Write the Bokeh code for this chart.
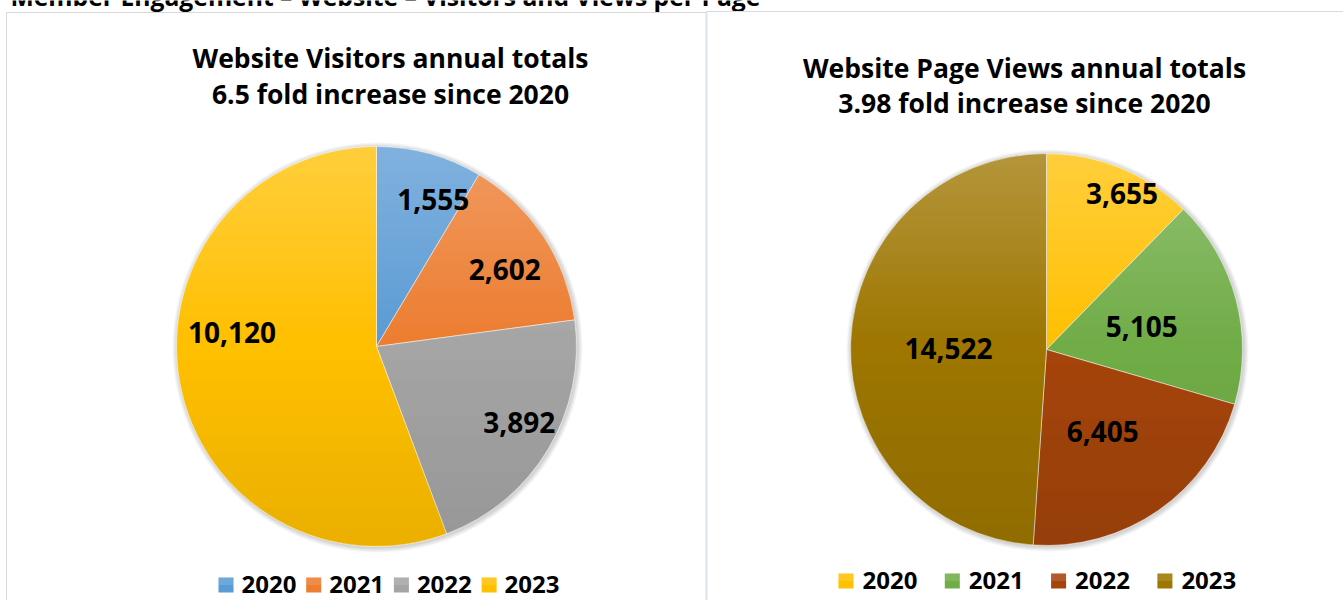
import numpy as np
from bokeh.plotting import figure
from bokeh.models import ColumnDataSource, Range1d
from bokeh.embed import file_html
from bokeh.resources import INLINE
from bokeh.core.properties import value

# ---------------- data ----------------
header = "Member Engagement – Website – Visitors and Views per Page"
years = ["2020", "2021", "2022", "2023"]
visitors = [1555, 2602, 3892, 10120]
page_views = [3655, 5105, 6405, 14522]
visitor_colors = ["#5B9BD5", "#ED7D31", "#A5A5A5", "#FFC000"]
view_colors = ["#FFC000", "#70AD47", "#A5450C", "#9E7600"]
visitors_title = ["Website Visitors annual totals", "6.5 fold increase since 2020"]
views_title = ["Website Page Views annual totals", "3.98 fold increase since 2020"]

# ---------------- layout (page pixels, y from top) ----------------
W, H = 1343, 600
FONT = value("Open Sans")
TXT_DY = -9  # baseline correction for the svg text renderer

panels = [
    dict(values=visitors, colors=visitor_colors, title=visitors_title,
         cx=376, cy=346, R=200, title_x=390, title_base=[66, 102],
         leg_x0=218, leg_pitch=87.7, leg_top=577, leg_txt_dx=23,
         label_r=0.75,
         nudges=[(17, -3), (3, 5), (14, -2), (3, -42)]),
    dict(values=page_views, colors=view_colors, title=views_title,
         cx=1046, cy=349, R=196, title_x=1024, title_base=[76, 111],
         leg_x0=838, leg_pitch=106.3, leg_top=573, leg_txt_dx=24,
         label_r=0.75,
         nudges=[(20, -21), (-47, 13), (-28, -40), (49, 3)]),
]


def Y(py):
    return H - py


p = figure(width=W, height=H, x_range=Range1d(0, W), y_range=Range1d(0, H),
           output_backend="svg", toolbar_location=None, min_border=0,
           background_fill_color="white", border_fill_color="white")
p.axis.visible = False
p.grid.visible = False
p.outline_line_color = None

# header (clipped at the top of the page)
p.text(x=[10], y=[Y(5 + TXT_DY)], text=[header], text_font=FONT,
       text_font_style="bold", text_font_size="24.7px", text_color="black",
       text_align="left", text_baseline="alphabetic")

# panel borders
p.segment(x0=[6, 6, 706, 706], y0=[Y(12), Y(12), Y(11), Y(11)],
          x1=[706, 6, 1343, 706], y1=[Y(12), Y(600), Y(11), Y(600)],
          line_color=["#d9d9d9", "#d9d9d9", "#d6dce4", "#dde2ea"],
          line_width=[1, 1, 1, 2])

for pn in panels:
    vals = np.array(pn["values"], dtype=float)
    frac = vals / vals.sum()
    cum = np.concatenate([[0], np.cumsum(frac)])
    start = np.pi / 2 - cum[:-1] * 2 * np.pi
    end = np.pi / 2 - cum[1:] * 2 * np.pi
    cx, cy, R = pn["cx"], pn["cy"], pn["R"]

    # soft shadow
    for k in range(1, 6):
        p.circle(x=[cx + 1], y=[Y(cy + 1)], radius=R + k, fill_color="black",
                 fill_alpha=0.035, line_color=None)

    src = ColumnDataSource(dict(start=start, end=end, color=pn["colors"]))
    p.wedge(x=cx, y=Y(cy), radius=R, start_angle="start", end_angle="end",
            direction="clock", fill_color="color", line_color="white",
            line_alpha=0.5, line_width=1, source=src)

    # vertical light-to-dark gradient overlay
    L, Rt, T, B, C, A = [], [], [], [], [], []
    y = cy - R
    while y < cy + R:
        y0, y1 = y, min(y + 1, cy + R)
        ym = (y0 + y1) / 2
        t = (ym - cy) / R
        if t < 0:
            d = min(abs(y0 - cy), abs(y1 - cy))
            col, al = "white", 0.25 * (-t)
        else:
            d = max(abs(y0 - cy), abs(y1 - cy))
            col, al = "black", 0.085 * t
        hw = np.sqrt(max(R * R - d * d, 0))
        L.append(cx - hw); Rt.append(cx + hw)
        T.append(Y(y0)); B.append(Y(y1)); C.append(col); A.append(al)
        y = y1
    p.quad(left=L, right=Rt, top=T, bottom=B, fill_color=C, fill_alpha=A,
           line_color=None)

    # data labels
    mid = (cum[:-1] + cum[1:]) / 2 * 2 * np.pi
    lr = pn["label_r"] * R
    lx = [cx + lr * np.sin(m) + n[0] for m, n in zip(mid, pn["nudges"])]
    ly = [Y(cy - lr * np.cos(m) + n[1] + 10 + TXT_DY)
          for m, n in zip(mid, pn["nudges"])]
    p.text(x=lx, y=ly, text=[f"{int(v):,}" for v in pn["values"]],
           text_font=FONT, text_font_style="bold", text_font_size="28px",
           text_color="black", text_align="center", text_baseline="alphabetic")

    # title
    p.text(x=[pn["title_x"]] * 2, y=[Y(b + TXT_DY) for b in pn["title_base"]],
           text=pn["title"], text_font=FONT, text_font_style="bold",
           text_font_size="26.5px", text_color="black", text_align="center",
           text_baseline="alphabetic")

    # legend
    sx = [pn["leg_x0"] + i * pn["leg_pitch"] for i in range(len(years))]
    top = pn["leg_top"]
    p.quad(left=sx, right=[s + 15 for s in sx], top=[Y(top)] * 4,
           bottom=[Y(top + 15)] * 4, fill_color=pn["colors"], line_color=None)
    p.quad(left=sx, right=[s + 15 for s in sx], top=[Y(top)] * 4,
           bottom=[Y(top + 7.5)] * 4, fill_color="white", fill_alpha=0.12,
           line_color=None)
    p.text(x=[s + pn["leg_txt_dx"] for s in sx], y=[Y(top + 16 + TXT_DY)] * 4,
           text=years, text_font=FONT, text_font_style="bold",
           text_font_size="24px", text_color="black", text_align="left",
           text_baseline="alphabetic")

open("out.html", "w").write(file_html(p, INLINE))
